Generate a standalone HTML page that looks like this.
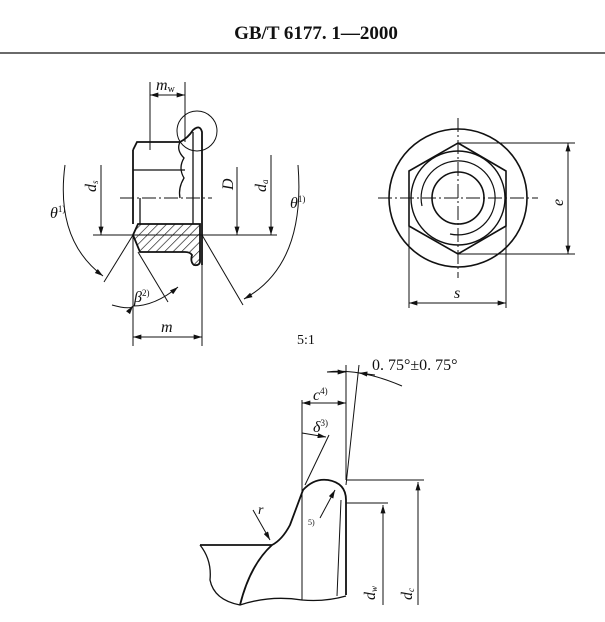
<!DOCTYPE html>
<html><head><style>
html,body{margin:0;padding:0;background:#fff;}
svg{display:block}
text{font-family:"Liberation Serif",serif;fill:#111}
</style></head><body>
<svg width="605" height="622" viewBox="0 0 605 622" xmlns="http://www.w3.org/2000/svg">
<defs>
<marker id="a" viewBox="0 0 10 6" refX="10" refY="3" markerWidth="9" markerHeight="5" orient="auto-start-reverse" markerUnits="userSpaceOnUse"><path d="M0,0L10,3L0,6z" fill="#111"/></marker>
<pattern id="h" width="6" height="6" patternUnits="userSpaceOnUse" patternTransform="rotate(45)"><line x1="0" y1="0" x2="0" y2="6" stroke="#111" stroke-width="1.3"/></pattern>
</defs>
<text x="316" y="39" text-anchor="middle" font-size="19" font-weight="bold">GB/T 6177. 1—2000</text>
<line x1="0" y1="53" x2="605" y2="53" stroke="#111" stroke-width="1.2"/>
<g stroke="#111" fill="none" stroke-width="1">
<line x1="150" y1="82" x2="150" y2="150"/><line x1="185" y1="82" x2="185" y2="142"/>
<line x1="150" y1="95" x2="185" y2="95" marker-start="url(#a)" marker-end="url(#a)"/>
<circle cx="197" cy="131" r="20"/>
<path d="M133,150 L137,142 L180,142 Q188,138 193,130 Q200,124 202,132 L202,265" stroke-width="1.8"/>
<path d="M193,132 L193,198" stroke-width="1.3"/>
<path d="M180,142 Q176,150 184,158 Q178,168 184,178 Q178,188 180,198" stroke-width="1.3"/>
<path d="M133,150 L133,224" stroke-width="1.8"/>
<line x1="133" y1="170" x2="185" y2="170" stroke-width="1.3"/>
<line x1="120" y1="198" x2="212" y2="198" stroke-dasharray="14,3,2,3"/>
<line x1="140" y1="198" x2="140" y2="224" stroke-width="1.3"/><line x1="193" y1="198" x2="193" y2="224" stroke-width="1.3"/>
<path d="M138,224 L200,224 L200,262 Q199,266 194,265 Q190,262 192,255 Q190,252 185,252 L140,252 L133,235 Z" fill="url(#h)" stroke-width="1.8"/>
<line x1="93" y1="235" x2="277" y2="235"/>
<line x1="133" y1="235" x2="133" y2="346"/><line x1="202" y1="265" x2="202" y2="346"/>
<line x1="133" y1="337" x2="202" y2="337" marker-start="url(#a)" marker-end="url(#a)"/>
<line x1="101" y1="165" x2="101" y2="235" marker-end="url(#a)"/>
<line x1="237" y1="167" x2="237" y2="235" marker-end="url(#a)"/>
<line x1="271" y1="155" x2="271" y2="235" marker-end="url(#a)"/>
<line x1="133" y1="235" x2="104" y2="282"/>
<line x1="202" y1="235" x2="243" y2="305"/>
<line x1="138" y1="252" x2="168" y2="302"/>
<path d="M65,165 Q55,240 103,276" marker-end="url(#a)"/>
<path d="M298,165 Q306,265 244,299" marker-end="url(#a)"/>
<path d="M112,305 Q130,310 133,306" marker-end="url(#a)"/>
<path d="M133,306 Q155,306 178,287" marker-end="url(#a)"/>
<circle cx="458" cy="198" r="69" stroke-width="1.6"/>
<path d="M458,143 L506,171 L506,226 L458,254 L409,226 L409,171 Z" stroke-width="1.6"/>
<circle cx="458" cy="198" r="47" stroke-width="1.4"/>
<circle cx="458" cy="198" r="26" stroke-width="1.6"/>
<path d="M422,206 A37,37 0 1 1 450,234" stroke-width="1.2"/>
<line x1="378" y1="198" x2="538" y2="198" stroke-dasharray="14,3,2,3"/>
<line x1="458" y1="118" x2="458" y2="278" stroke-dasharray="14,3,2,3"/>
<line x1="458" y1="143" x2="575" y2="143"/><line x1="458" y1="254" x2="575" y2="254"/>
<line x1="568" y1="143" x2="568" y2="254" marker-start="url(#a)" marker-end="url(#a)"/>
<line x1="409" y1="226" x2="409" y2="308"/><line x1="506" y1="226" x2="506" y2="308"/>
<line x1="409" y1="303" x2="506" y2="303" marker-start="url(#a)" marker-end="url(#a)"/>
<line x1="346" y1="365" x2="346" y2="480"/>
<line x1="359" y1="365" x2="346" y2="485"/>
<path d="M327,372 Q360,368 402,386" />
<line x1="327" y1="372" x2="346" y2="372" marker-end="url(#a)"/>
<line x1="375" y1="375" x2="359" y2="373" marker-end="url(#a)"/>
<line x1="302" y1="400" x2="302" y2="600"/>
<line x1="302" y1="403" x2="346" y2="403" marker-start="url(#a)" marker-end="url(#a)"/>
<line x1="329" y1="435" x2="305" y2="485"/>
<line x1="302" y1="433" x2="326" y2="437" marker-end="url(#a)"/>
<path d="M200,545 L272,545 Q282,540 290,525 L303,490 Q314,478 328,480 Q346,483 346,500 L346,595" stroke-width="1.8"/>
<path d="M272,545 Q250,565 240,605" stroke-width="1.8"/>
<path d="M200,545 Q212,560 210,580 Q214,600 240,605 Q270,595 302,600 Q325,602 346,596" stroke-width="1.3"/>
<line x1="341" y1="500" x2="337" y2="596"/>
<line x1="320" y1="518" x2="335" y2="490" marker-end="url(#a)"/>
<line x1="253" y1="510" x2="270" y2="540" marker-end="url(#a)"/>
<line x1="346" y1="480" x2="424" y2="480"/>
<line x1="346" y1="503" x2="388" y2="503"/>
<line x1="383" y1="605" x2="383" y2="505" marker-end="url(#a)"/>
<line x1="418" y1="605" x2="418" y2="482" marker-end="url(#a)"/>
</g>
<g font-style="italic" font-size="16">
<text x="156" y="90">m<tspan font-size="10" font-style="normal" dy="2">w</tspan></text>
<text x="161" y="332">m</text>
<text transform="translate(96,192) rotate(-90)">d<tspan font-size="9" dy="2">s</tspan></text>
<text transform="translate(233,190) rotate(-90)">D</text>
<text transform="translate(266,192) rotate(-90)">d<tspan font-size="9" dy="2">a</tspan></text>
<text x="50" y="218">θ<tspan font-size="9" font-style="normal" dy="-6">1)</tspan></text>
<text x="290" y="208">θ<tspan font-size="9" font-style="normal" dy="-6">1)</tspan></text>
<text x="134" y="302">β<tspan font-size="9" font-style="normal" dy="-6">2)</tspan></text>
<text transform="translate(563,206) rotate(-90)">e</text>
<text x="454" y="298">s</text>
<text x="313" y="400">c<tspan font-size="9" font-style="normal" dy="-6">4)</tspan></text>
<text x="313" y="432">δ<tspan font-size="9" font-style="normal" dy="-6">3)</tspan></text>
<text x="258" y="514" font-size="14">r</text>
<text transform="translate(375,600) rotate(-90)">d<tspan font-size="9" dy="2">w</tspan></text>
<text transform="translate(412,600) rotate(-90)">d<tspan font-size="9" dy="2">c</tspan></text>
</g>
<text x="308" y="525" font-size="8">5)</text>
<text x="297" y="344" font-size="14">5:1</text>
<text x="372" y="370" font-size="16">0. 75°±0. 75°</text>
</svg>
</body></html>
